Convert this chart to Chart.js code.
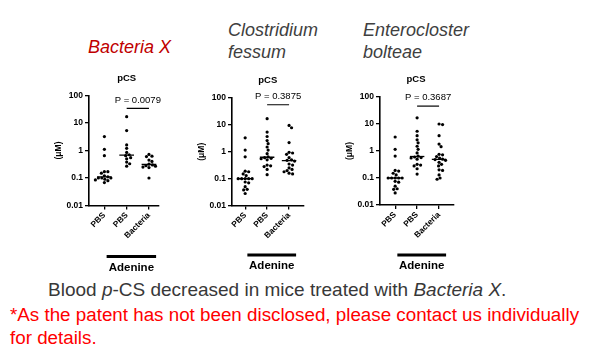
<!DOCTYPE html>
<html><head><meta charset="utf-8">
<script src="https://cdn.jsdelivr.net/npm/chart.js@4/dist/chart.umd.min.js"></script>
<style>
html,body{margin:0;padding:0;background:#fff;width:591px;height:352px;overflow:hidden;font-family:"Liberation Sans",Arial,sans-serif}
.abs{position:absolute;white-space:nowrap}
.sp{font-style:italic;font-size:18px;line-height:22px;color:#404040}
canvas{position:absolute}
</style></head><body>
<div id="s0" class="abs sp" style="left:88px;top:36px;color:#c00000"></div>
<div id="s1" class="abs sp" style="left:228px;top:19px"></div>
<div id="s2" class="abs sp" style="left:363px;top:19px"></div>
<div id="cap" class="abs" style="left:48px;top:279px;font-size:19px;line-height:22px;color:#383838">Blood <i>p</i>-CS decreased in mice treated with <i>Bacteria X</i>.</div>
<div id="note" class="abs" style="left:10px;top:302.5px;font-size:18.8px;line-height:23px;color:#ff0000">*As the patent has not been disclosed, please contact us individually<br>for details.</div>
<canvas id="c0"></canvas><canvas id="c1"></canvas><canvas id="c2"></canvas>
<script>
// ---- data ----
const categories = ["PBS", "PBS", "Bacteria"];
const yTickValues = [0.01, 0.1, 1, 10, 100];
const speciesNames = [["Bacteria X"], ["Clostridium", "fessum"], ["Enterocloster", "bolteae"]];
const panelTitle = "pCS";
const pValueLabels = ["P = 0.0079", "P = 0.3875", "P = 0.3687"];
const groupLabel = "Adenine";
const yAxisLabel = "(\u03bcM)";

// Panel 1: Bacteria X experiment
const bxPBS = [3.2, 1.1, 0.65, 0.17, 0.17, 0.15, 0.12, 0.11, 0.10, 0.10, 0.10, 0.09, 0.085, 0.08, 0.068];
const bxPBSAdenine = [17, 5.3, 1.6, 1.2, 0.85, 0.7, 0.65, 0.55, 0.5, 0.38, 0.33, 0.27];
const bxBacteria = [0.72, 0.62, 0.6, 0.45, 0.4, 0.32, 0.3, 0.28, 0.27, 0.25, 0.24, 0.1];
// Panels 2 & 3 share control groups
const sharedPBS = [3.3, 1.15, 0.65, 0.19, 0.18, 0.15, 0.13, 0.1, 0.1, 0.1, 0.1, 0.1, 0.075, 0.07, 0.05, 0.04, 0.038, 0.028];
const sharedPBSAdenine = [17, 5.4, 3.7, 2.6, 2.0, 1.5, 1.15, 0.85, 0.65, 0.6, 0.57, 0.55, 0.5, 0.32, 0.3, 0.28, 0.22, 0.14];
const cfBacteria = [9.5, 7.8, 2.2, 0.95, 0.9, 0.8, 0.6, 0.5, 0.48, 0.45, 0.35, 0.32, 0.25, 0.22, 0.2, 0.18, 0.16, 0.15];
const ebBacteria = [10, 9.5, 3.7, 1.8, 1.45, 0.75, 0.72, 0.62, 0.55, 0.5, 0.48, 0.45, 0.38, 0.32, 0.28, 0.2, 0.19, 0.13, 0.1, 0.09];

const panelGroups = [
  [bxPBS, bxPBSAdenine, bxBacteria],
  [sharedPBS, sharedPBSAdenine, cfBacteria],
  [sharedPBS, sharedPBSAdenine, ebBacteria]
];

// ---- layout (positions/styles only) ----
const FONT = '"Liberation Sans", Arial, sans-serif';
const layouts = [
  {axisX: 89,  plotW: 70, top: 95.5, bottom: 205.5, xmin: -0.69, xmax: 2.45, titleX: 1.0,  bracketY: 34, barY: 195,   barTextY: 208},
  {axisX: 232, plotW: 72, top: 98,   bottom: 205.5, xmin: -0.60, xmax: 2.68, titleX: 1.03, bracketY: 56, barY: 193.5, barTextY: 205.5},
  {axisX: 380, plotW: 74, top: 97,   bottom: 205,   xmin: -0.69, xmax: 2.68, titleX: 0.95, bracketY: 46, barY: 193.5, barTextY: 205.5}
];
const CANVAS_TOP = 60, CANVAS_H = 220, YW = 40, RPAD = 20;

speciesNames.forEach((lines, i) => { document.getElementById('s' + i).innerHTML = lines.join('<br>'); });

function median(arr) {
  const s = [...arr].sort((a, b) => a - b), n = s.length;
  return n % 2 ? s[(n - 1) / 2] : (s[n / 2 - 1] + s[n / 2]) / 2;
}

const annotPlugin = {
  id: 'annot',
  afterDraw(chart, args, o) {
    const ctx = chart.ctx, xs = chart.scales.x, ys = chart.scales.y, top = chart.chartArea.top;
    ctx.save();
    ctx.fillStyle = '#000';
    ctx.textAlign = 'center';
    ctx.textBaseline = 'middle';
    ctx.font = 'bold 9.5px ' + FONT;
    ctx.fillText(o.title, xs.getPixelForValue(o.titleX), top - 17.5);
    ctx.font = '9.5px ' + FONT;
    ctx.fillText(o.pText, xs.getPixelForValue(1.5), ys.getPixelForValue(o.bracketY) - 8.5);
    const x0 = xs.getPixelForValue(0.1), x1 = xs.getPixelForValue(2.32);
    ctx.fillRect(x0, o.barY, x1 - x0, 3);
    ctx.font = 'bold 11.5px ' + FONT;
    ctx.fillText(o.barLabel, (x0 + x1) / 2, o.barTextY);
    ctx.restore();
  }
};

function makePanel(p) {
  const L = layouts[p], groups = panelGroups[p];
  const cv = document.getElementById('c' + p);
  const W = YW + L.plotW + RPAD;
  cv.width = W; cv.height = CANVAS_H;
  cv.style.left = (L.axisX - YW) + 'px';
  cv.style.top = CANVAS_TOP + 'px';
  cv.style.width = W + 'px'; cv.style.height = CANVAS_H + 'px';

  const datasets = [];
  groups.forEach((vals, g) => {
    datasets.push({type: 'scatter', data: vals.map(v => ({x: g, y: v})),
      pointRadius: 1.6, pointBackgroundColor: '#000', pointBorderWidth: 0, pointHoverRadius: 1.6});
  });
  groups.forEach((vals, g) => {
    const m = median(vals);
    datasets.push({type: 'scatter', showLine: true, data: [{x: g - 0.33, y: m}, {x: g + 0.33, y: m}],
      borderColor: '#000', borderWidth: 1.3, pointRadius: 0});
  });
  datasets.push({type: 'scatter', showLine: true, data: [{x: 1, y: L.bracketY}, {x: 2, y: L.bracketY}],
    borderColor: '#000', borderWidth: 1.2, pointRadius: 0});

  const chart = new Chart(cv, {
    type: 'scatter',
    data: {datasets},
    options: {
      responsive: false, animation: false, devicePixelRatio: 1,
      layout: {padding: {top: L.top - CANVAS_TOP, right: RPAD, left: 0, bottom: 0}},
      plugins: {legend: {display: false}, tooltip: {enabled: false},
        annot: {title: panelTitle, titleX: L.titleX, pText: pValueLabels[p], bracketY: L.bracketY,
                barY: L.barY, barTextY: L.barTextY, barLabel: groupLabel}},
      scales: {
        x: {type: 'linear', min: L.xmin, max: L.xmax,
          afterBuildTicks: s => { s.ticks = categories.map((c, i) => ({value: i})); },
          afterFit: s => { s.height = CANVAS_H - (L.bottom - CANVAS_TOP); },
          ticks: {color: '#000', font: {family: FONT, size: 8.3, weight: 'bold'}, minRotation: 45, maxRotation: 45,
            padding: 1, autoSkip: false, callback: v => categories[Math.round(v)]},
          grid: {display: true, drawOnChartArea: false, drawTicks: true, tickLength: 4, color: '#000', lineWidth: 1.3},
          border: {display: true, color: '#000', width: 1.6}
        },
        y: {type: 'logarithmic', min: 0.01, max: 100,
          afterBuildTicks: s => { s.ticks = yTickValues.map(v => ({value: v})); },
          afterFit: s => { s.width = YW; },
          ticks: {color: '#000', font: {family: FONT, size: 8.5, weight: 'bold'}, padding: 2, autoSkip: false,
            callback: v => String(v)},
          title: {display: true, text: yAxisLabel, color: '#000', font: {family: FONT, size: 8.5, weight: 'bold'},
            padding: {top: 5, bottom: 0}},
          grid: {display: true, drawOnChartArea: false, drawTicks: true, tickLength: 4, color: '#000', lineWidth: 1.3},
          border: {display: true, color: '#000', width: 1.6}
        }
      }
    },
    plugins: [annotPlugin]
  });

  // beeswarm spread of points within each group (layout only)
  const xs = chart.scales.x, ys = chart.scales.y;
  const unit = xs.getPixelForValue(1) - xs.getPixelForValue(0);
  const d = 3.2;
  groups.forEach((vals, g) => {
    const order = vals.map((v, i) => i).sort((a, b) => vals[b] - vals[a]);
    const placed = [];
    const pts = new Array(vals.length);
    order.forEach(i => {
      const py = ys.getPixelForValue(vals[i]);
      let off = 0;
      for (let k = 0; k < 200; k++) {
        const c = (k % 2 ? 1 : -1) * Math.ceil(k / 2) * 0.5;
        const ok = placed.every(q => (q.x - c) ** 2 + (q.y - py) ** 2 >= d * d);
        if (ok) { off = c; break; }
      }
      placed.push({x: off, y: py});
      pts[i] = {x: g + off / unit, y: vals[i]};
    });
    chart.data.datasets[g].data = pts;
  });
  chart.update('none');
}
[0, 1, 2].forEach(makePanel);
</script>
</body></html>
